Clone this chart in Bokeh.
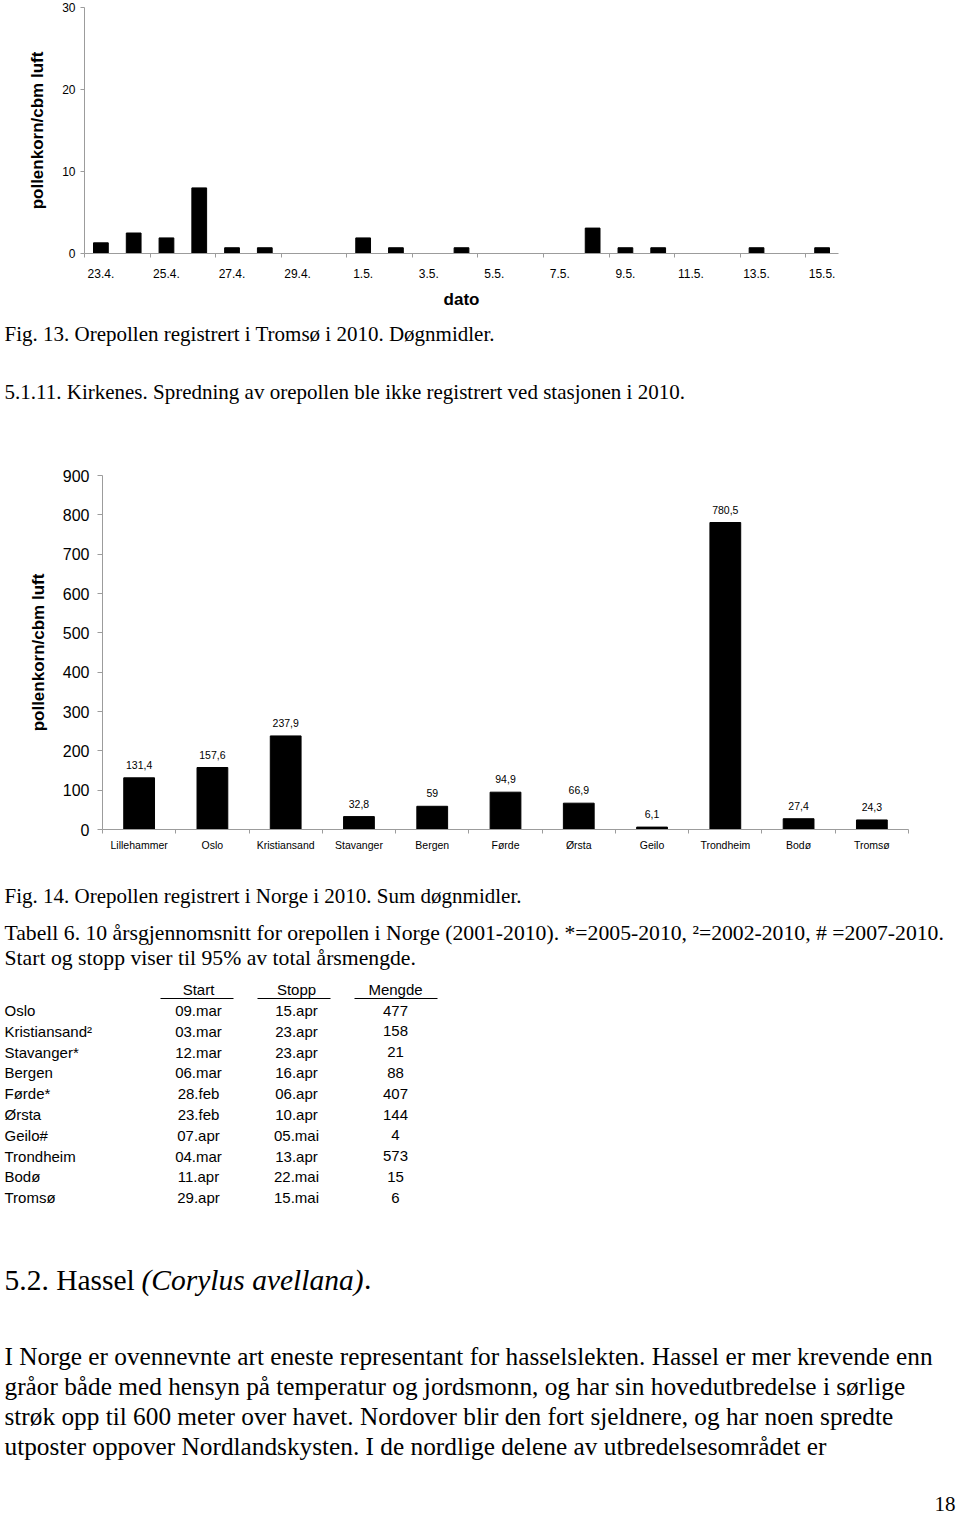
from bokeh.plotting import figure
from bokeh.models import FixedTicker, Range1d, ColumnDataSource
from bokeh.embed import file_html
from bokeh.resources import INLINE
from bokeh.core.properties import value

# ---------------- data ----------------
dates = ["23.4.", "24.4.", "25.4.", "26.4.", "27.4.", "28.4.", "29.4.", "30.4.",
         "1.5.", "2.5.", "3.5.", "4.5.", "5.5.", "6.5.", "7.5.", "8.5.", "9.5.",
         "10.5.", "11.5.", "12.5.", "13.5.", "14.5.", "15.5."]
daily_pollen = [1.3, 2.5, 1.9, 8.0, 0.7, 0.7, 0, 0, 1.9, 0.7, 0, 0.7, 0, 0, 0,
                3.1, 0.7, 0.7, 0, 0, 0.7, 0, 0.7]

stations = ["Lillehammer", "Oslo", "Kristiansand", "Stavanger", "Bergen", "Førde",
            "Ørsta", "Geilo", "Trondheim", "Bodø", "Tromsø"]
station_sums = [131.4, 157.6, 237.9, 32.8, 59, 94.9, 66.9, 6.1, 780.5, 27.4, 24.3]

table_stations = ["Oslo", "Kristiansand²", "Stavanger*", "Bergen", "Førde*", "Ørsta",
                  "Geilo#", "Trondheim", "Bodø", "Tromsø"]
table_start = ["09.mar", "03.mar", "12.mar", "06.mar", "28.feb", "23.feb", "07.apr",
               "04.mar", "11.apr", "29.apr"]
table_stop = ["15.apr", "23.apr", "23.apr", "16.apr", "06.apr", "10.apr", "05.mai",
              "13.apr", "22.mai", "15.mai"]
table_amount = [477, 158, 21, 88, 407, 144, 4, 573, 15, 6]
table_headers = ["Start", "Stopp", "Mengde"]

caption13 = "Fig. 13. Orepollen registrert i Tromsø i 2010. Døgnmidler."
kirkenes = "5.1.11. Kirkenes. Spredning av orepollen ble ikke registrert ved stasjonen i 2010."
caption14 = "Fig. 14. Orepollen registrert i Norge i 2010. Sum døgnmidler."
table_title = ["Tabell 6. 10 årsgjennomsnitt for orepollen i Norge (2001-2010). *=2005-2010, ²=2002-2010, # =2007-2010.",
               "Start og stopp viser til 95% av total årsmengde."]
heading = ["5.2. Hassel ", "(Corylus avellana)", "."]
paragraph = [
    "I Norge er ovennevnte art eneste representant for hasselslekten. Hassel er mer krevende enn",
    "gråor både med hensyn på temperatur og jordsmonn, og har sin hovedutbredelse i sørlige",
    "strøk opp til 600 meter over havet. Nordover blir den fort sjeldnere, og har noen spredte",
    "utposter oppover Nordlandskysten. I de nordlige delene av utbredelsesområdet er",
]
page_number = "18"

SANS = "Liberation Sans"
SERIF = "Liberation Serif"
AXIS_GREY = "#9c9c9c"

W = 960


def text_canvas(h):
    p = figure(width=W, height=h, x_range=Range1d(0, W), y_range=Range1d(h, 0),
               output_backend="svg", toolbar_location=None, min_border=0,
               x_axis_location=None, y_axis_location=None)
    p.grid.visible = False
    p.outline_line_color = None
    return p


def style_axes(p, ytick_size, xtick_size):
    for ax in (p.xaxis[0], p.yaxis[0]):
        ax.axis_line_color = AXIS_GREY
        ax.major_tick_line_color = AXIS_GREY
        ax.minor_tick_line_color = AXIS_GREY
        ax.major_label_text_font = SANS
        ax.major_label_text_color = "black"
        ax.axis_label_text_font = SANS
        ax.axis_label_text_font_style = "bold"
        ax.axis_label_text_font_size = "17px"
        ax.axis_label_text_color = "black"
        ax.major_tick_in = 0
        ax.minor_tick_in = 0
    p.yaxis.major_label_text_font_size = ytick_size
    p.xaxis.major_label_text_font_size = xtick_size
    p.grid.visible = False
    p.outline_line_color = None


# ---------------- chart 1 : Tromsø daily ----------------
p1 = figure(width=W, height=316, x_range=Range1d(-0.5, len(dates) - 0.5),
            y_range=Range1d(0, 30), output_backend="svg", toolbar_location=None,
            min_border_left=84, min_border_right=122, min_border_top=7,
            min_border_bottom=63)
p1.vbar(x=list(range(len(dates))), top=daily_pollen, width=0.45,
        fill_color="black", line_color="black")
style_axes(p1, "12px", "12px")
even = list(range(0, len(dates), 2))
p1.xaxis.ticker = FixedTicker(ticks=even, minor_ticks=[i - 0.5 for i in even])
p1.xaxis.major_label_overrides = {i: dates[i] for i in even}
p1.xaxis.major_tick_out = 0
p1.xaxis.minor_tick_out = 4
p1.xaxis.major_label_standoff = 11
p1.xaxis.axis_label = "dato"
p1.xaxis.axis_label_standoff = 9
p1.yaxis.ticker = FixedTicker(ticks=[0, 10, 20, 30], minor_ticks=[])
p1.yaxis.major_tick_out = 4
p1.yaxis.major_label_standoff = 5
p1.yaxis.axis_label = "pollenkorn/cbm luft"
p1.yaxis.axis_label_standoff = 12

# ---------------- text between charts ----------------
t1 = text_canvas(124)
t1.text(x=[4, 4], y=[17, 75], text=[caption13, kirkenes],
        text_font=value(SERIF), text_font_size="21px", text_baseline="middle",
        text_align="left", text_color="black")

# ---------------- chart 2 : Norway sums ----------------
p2 = figure(width=W, height=430, x_range=Range1d(-0.5, len(stations) - 0.5),
            y_range=Range1d(0, 900), output_backend="svg", toolbar_location=None,
            min_border_left=102, min_border_right=52, min_border_top=35,
            min_border_bottom=41)
src2 = ColumnDataSource(dict(
    x=list(range(len(stations))), top=station_sums,
    lab=[f"{v:g}".replace(".", ",") for v in station_sums]))
p2.vbar(x="x", top="top", width=0.42, source=src2,
        fill_color="black", line_color="black")
p2.text(x="x", y="top", text="lab", source=src2, y_offset=-13,
        text_font=value(SANS), text_font_size="10.5px", text_align="center",
        text_baseline="middle", text_color="black")
style_axes(p2, "16px", "10.5px")
idx = list(range(len(stations)))
p2.xaxis.ticker = FixedTicker(ticks=idx, minor_ticks=[i - 0.5 for i in idx] + [len(idx) - 0.5])
p2.xaxis.major_label_overrides = {i: stations[i] for i in idx}
p2.xaxis.major_tick_out = 0
p2.xaxis.minor_tick_out = 4
p2.xaxis.major_label_standoff = 5
p2.yaxis.ticker = FixedTicker(ticks=list(range(0, 901, 100)), minor_ticks=[])
p2.yaxis.major_tick_out = 5
p2.yaxis.major_label_standoff = 8
p2.yaxis.axis_label = "pollenkorn/cbm luft"
p2.yaxis.axis_label_standoff = 12

# ---------------- lower text: captions, table, paragraph ----------------
t2 = text_canvas(649)
t2.text(x=[4], y=[25], text=[caption14],
        text_font=value(SERIF), text_font_size="21px", text_baseline="middle",
        text_align="left", text_color="black")
t2.text(x=[4, 4], y=[62, 87], text=table_title,
        text_font=value(SERIF), text_font_size="21.7px", text_baseline="middle",
        text_align="left", text_color="black")

col_x = [198, 296, 395]
t2.text(x=col_x, y=[119] * 3, text=table_headers, text_font=value(SANS),
        text_font_size="15px", text_baseline="middle", text_align="center",
        text_color="black")
t2.segment(x0=[160, 257, 354], y0=[128] * 3, x1=[233, 330, 437], y1=[128] * 3,
           line_color="black", line_width=1)
rows_y = [140 + 20.8 * i for i in range(len(table_stations))]
t2.text(x=[4] * len(rows_y), y=rows_y, text=table_stations, text_font=value(SANS),
        text_font_size="15px", text_baseline="middle", text_align="left",
        text_color="black")
for cx, col in zip(col_x, [table_start, table_stop, [str(a) for a in table_amount]]):
    t2.text(x=[cx] * len(rows_y), y=rows_y, text=col, text_font=value(SANS),
            text_font_size="15px", text_baseline="middle", text_align="center",
            text_color="black")

t2.text(x=[4, 363.5], y=[409, 409], text=[heading[0], heading[2]],
        text_font=value(SERIF), text_font_size="29.5px", text_baseline="middle",
        text_align="left", text_color="black")
t2.text(x=[141], y=[409], text=[heading[1]], text_font=value(SERIF),
        text_font_size="29.5px", text_font_style="italic", text_baseline="middle",
        text_align="left", text_color="black")
t2.text(x=[4] * len(paragraph), y=[485 + 30 * i for i in range(len(paragraph))],
        text=paragraph, text_font=value(SERIF), text_font_size="25.3px",
        text_baseline="middle", text_align="left", text_color="black")
t2.text(x=[955], y=[633], text=[page_number], text_font=value(SERIF),
        text_font_size="21px", text_baseline="middle", text_align="right",
        text_color="black")

open("out.html", "w").write(file_html([p1, t1, p2, t2], INLINE))
